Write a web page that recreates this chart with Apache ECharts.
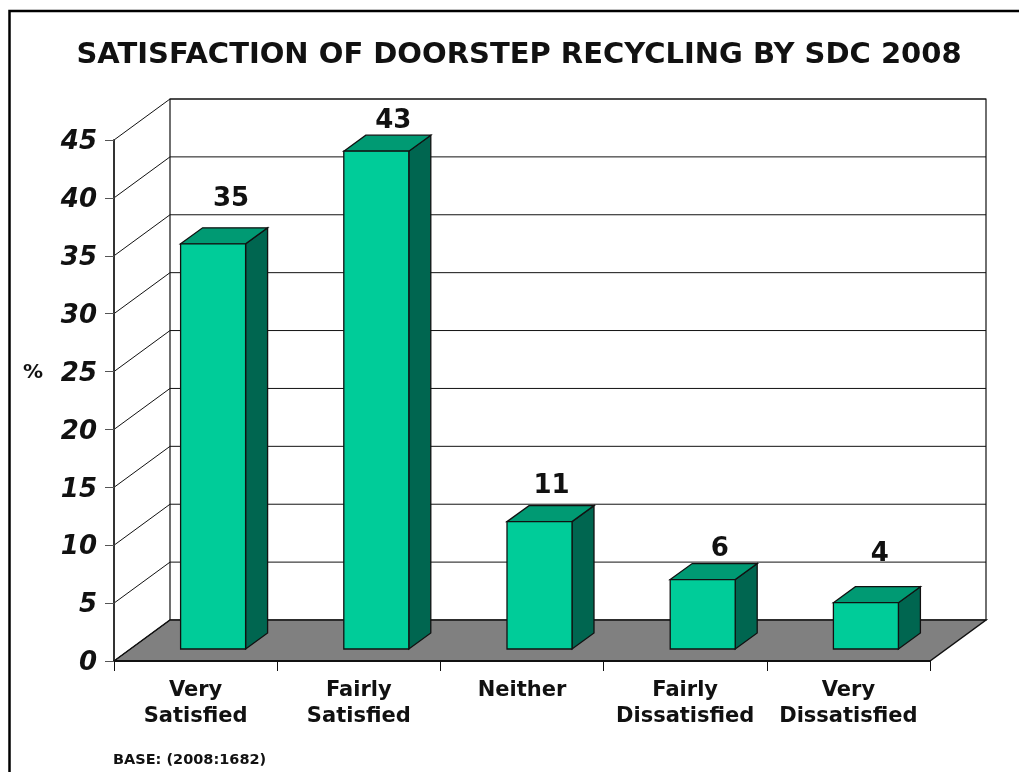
<!DOCTYPE html>
<html>
<head>
<meta charset="utf-8">
<title>Satisfaction of doorstep recycling</title>
<script src="https://cdn.jsdelivr.net/npm/echarts@6/dist/echarts.min.js"></script>
<style>
html,body{margin:0;padding:0;background:#fff;}
#main{width:1019px;height:772px;}
</style>
</head>
<body>
<div id="main"></div>
<script>
var categories = ['Very\nSatisfied', 'Fairly\nSatisfied', 'Neither', 'Fairly\nDissatisfied', 'Very\nDissatisfied'];
var values = [35, 43, 11, 6, 4];
var yTicks = [0, 5, 10, 15, 20, 25, 30, 35, 40, 45];

var FONT = '"DejaVu Sans", Verdana, sans-serif';
var INK = '#111';

// the walls run back by this much, the bars sit part way into it
var wallDx = 56, wallDy = -41;
var barDx = 22, barDy = -16;
var barShift = 17.5, barLift = 12, barWidth = 65;
// data labels were placed by hand in the original: [dx, dy] from the bar's back top edge
var labelNudge = [[7, -29], [6, -14], [1, -19], [6, -14], [3, -32]];

function renderWall(params, api) {
	var cs = params.coordSys;
	var v = api.value(1);
	var y = api.coord([0, v])[1];
	var left = cs.x, right = cs.x + cs.width;
	var line = {stroke: INK, lineWidth: 1};
	var kids = [];
	if (v === 0) {
		// back wall and floor
		var top = api.coord([0, yTicks[yTicks.length - 1]])[1];
		kids.push({type: 'rect', shape: {x: left + wallDx, y: top + wallDy, width: cs.width, height: y - top},
			style: {fill: '#fff', stroke: INK, lineWidth: 1.2}});
		kids.push({type: 'polygon', shape: {points: [[left, y], [left + wallDx, y + wallDy], [right + wallDx, y + wallDy], [right, y]]},
			style: {fill: '#808080', stroke: INK, lineWidth: 1.5}});
	} else {
		kids.push({type: 'line', shape: {x1: left + wallDx, y1: y + wallDy, x2: right + wallDx, y2: y + wallDy}, style: line});
	}
	kids.push({type: 'line', shape: {x1: left, y1: y, x2: left + wallDx, y2: y + wallDy}, style: line});
	return {type: 'group', children: kids};
}

function renderBar(params, api) {
	var i = api.value(0);
	var c = api.coord([i, api.value(1)]);
	var base = api.coord([i, 0]);
	var x0 = c[0] + barShift - barWidth / 2;
	var x1 = x0 + barWidth;
	// bars stand on the floor, lifted off the front edge
	var yt = c[1] - barLift;
	var yb = base[1] - barLift;
	var nudge = labelNudge[params.dataIndex];
	return {type: 'group', children: [
		{type: 'polygon', shape: {points: [[x1, yt], [x1 + barDx, yt + barDy], [x1 + barDx, yb + barDy], [x1, yb]]},
			style: {fill: '#006650', stroke: INK, lineWidth: 1.3}},
		{type: 'polygon', shape: {points: [[x0, yt], [x0 + barDx, yt + barDy], [x1 + barDx, yt + barDy], [x1, yt]]},
			style: {fill: '#009a73', stroke: INK, lineWidth: 1.3}},
		{type: 'rect', shape: {x: x0, y: yt, width: barWidth, height: yb - yt},
			style: {fill: '#00cc99', stroke: INK, lineWidth: 1.3}},
		{type: 'text', x: (x0 + x1 + barDx) / 2 + nudge[0], y: yt + barDy + nudge[1],
			style: {text: String(api.value(1)), fill: INK, font: 'bold 26px ' + FONT, align: 'center', verticalAlign: 'middle'}}
	]};
}

var wallData = [];
for (var k = 0; k < yTicks.length; k++) {
	wallData.push([0, yTicks[k]]);
}
var barData = [];
for (var b = 0; b < values.length; b++) {
	barData.push([b, values[b]]);
}

var myChart = echarts.init(document.getElementById('main'), null, {renderer: 'canvas'});
var option = {
	animation: false,
	backgroundColor: '#fff',
	title: [
		{text: 'SATISFACTION OF DOORSTEP RECYCLING BY SDC 2008', left: 514, top: 36, textAlign: 'center',
			textStyle: {fontFamily: FONT, fontWeight: 'bold', fontSize: 29, color: INK}},
		{text: 'BASE: (2008:1682)', left: 108, top: 748,
			textStyle: {fontFamily: FONT, fontWeight: 'bold', fontSize: 14.5, color: INK}}
	],
	grid: {left: 114, right: 89, top: 140, bottom: 111},
	xAxis: {
		type: 'category',
		data: categories,
		z: 5,
		axisLine: {lineStyle: {color: INK, width: 2}},
		axisTick: {show: true, alignWithLabel: false, length: 10, lineStyle: {color: INK}},
		axisLabel: {margin: 17, interval: 0, fontFamily: FONT, fontWeight: 'bold', fontSize: 21, lineHeight: 26, color: INK}
	},
	yAxis: {
		type: 'value',
		min: 0,
		max: 45,
		interval: 5,
		name: '%',
		nameLocation: 'middle',
		nameRotate: 0,
		nameGap: 71,
		nameTextStyle: {fontFamily: FONT, fontWeight: 'bold', fontSize: 20, color: INK, verticalAlign: 'bottom', lineHeight: 56},
		z: 5,
		splitLine: {show: false},
		axisLine: {show: true, lineStyle: {color: '#333', width: 2}},
		axisTick: {show: true, length: 9, lineStyle: {color: '#555'}},
		axisLabel: {margin: 17, fontFamily: FONT, fontWeight: 'bold', fontStyle: 'italic', fontSize: 26, color: INK, verticalAlign: 'top', lineHeight: 5}
	},
	series: [
		{type: 'custom', name: 'walls', renderItem: renderWall, data: wallData, z: 1, silent: true},
		{type: 'custom', name: 'satisfaction', renderItem: renderBar, data: barData, z: 2}
	],
	graphic: [
		{type: 'polyline', shape: {points: [[9.5, 772], [9.5, 11], [1019, 11]]}, style: {fill: 'none', stroke: '#000', lineWidth: 2.5}}
	]
};
myChart.setOption(option, true);
</script>
</body>
</html>
